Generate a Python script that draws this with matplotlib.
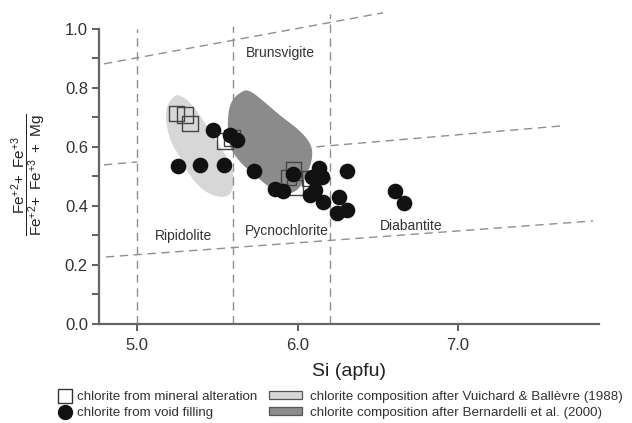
import matplotlib
matplotlib.use('Agg')
import matplotlib.pyplot as plt
from matplotlib.patches import Polygon, Patch
from matplotlib.lines import Line2D
import numpy as np

plt.rcParams['font.family'] = ['Liberation Sans', 'DejaVu Sans']
plt.rcParams['mathtext.fontset'] = 'custom'
plt.rcParams['mathtext.rm'] = 'Liberation Sans'
plt.rcParams['mathtext.it'] = 'Liberation Sans:italic'
plt.rcParams['mathtext.bf'] = 'Liberation Sans:bold'

# ---------------- data ----------------
# chlorite from mineral alteration (open squares)
sq_si = [5.247, 5.299, 5.330, 5.548, 5.592, 5.974, 5.943, 5.984, 6.078]
sq_fe = [0.714, 0.708, 0.678, 0.620, 0.630, 0.524, 0.496, 0.463, 0.494]

# chlorite from void filling (filled circles)
ci_si = [5.471, 5.579, 5.625, 5.258, 5.393, 5.542, 5.729, 5.860, 5.912, 5.970,
         6.088, 6.136, 6.151, 6.078, 6.109, 6.157, 6.261, 6.248, 6.310, 6.310,
         6.607, 6.664]
ci_fe = [0.658, 0.641, 0.624, 0.536, 0.539, 0.539, 0.519, 0.457, 0.452, 0.507,
         0.499, 0.528, 0.497, 0.437, 0.454, 0.412, 0.429, 0.377, 0.386, 0.519,
         0.451, 0.409]

# field after Vuichard & Ballevre (1988)
vb_si = [5.230, 5.170, 5.200, 5.268, 5.330, 5.436, 5.561, 5.605, 5.600, 5.561,
         5.498, 5.411, 5.330, 5.268]
vb_fe = [0.775, 0.725, 0.624, 0.566, 0.498, 0.440, 0.425, 0.464, 0.522, 0.566,
         0.617, 0.692, 0.752, 0.775]

# field after Bernardelli et al. (2000)
be_si = [5.660, 5.575, 5.562, 5.575, 5.642, 5.748, 5.829, 5.910, 6.005, 6.065,
         6.095, 6.085, 6.016, 5.891, 5.766, 5.704]
be_fe = [0.792, 0.752, 0.658, 0.600, 0.546, 0.498, 0.460, 0.438, 0.450, 0.512,
         0.566, 0.610, 0.655, 0.706, 0.765, 0.790]

# classification boundaries
vline_si = [5.0, 5.6, 6.2]
vline_top = [1.0, 1.01, 1.05]
sline_x0 = [4.794, 4.794, 5.6, 4.806]
sline_y0 = [0.881, 0.539, 0.576, 0.227]
sline_x1 = [6.533, 5.0, 7.648, 7.841]
sline_y1 = [1.054, 0.549, 0.671, 0.349]

field_names = ['Brunsvigite', 'Ripidolite', 'Pycnochlorite', 'Diabantite']
field_x = [5.89, 5.29, 5.93, 6.71]
field_y = [0.918, 0.298, 0.315, 0.332]

xticks = [5.0, 6.0, 7.0]
yticks = [0.0, 0.2, 0.4, 0.6, 0.8, 1.0]
yminor = [0.1, 0.3, 0.5, 0.7, 0.9]


def rounded_outline(xs, ys, iters=3):
    """Chaikin corner cutting to round the outline of a closed field."""
    p = np.column_stack([xs, ys]).astype(float)
    for _ in range(iters):
        q = np.roll(p, -1, axis=0)
        p = np.vstack([0.75 * p + 0.25 * q, 0.25 * p + 0.75 * q]).reshape(2, -1, 2)
        p = np.stack([p[0], p[1]], axis=1).reshape(-1, 2)
    return p


# ---------------- figure ----------------
fig = plt.figure(figsize=(6.32, 4.23), dpi=100)
ax = fig.add_axes([99/632, 1-324/423, 500/632, 313/423])
ax.set_xlim(4.763, 7.878)
ax.set_ylim(0, 1.06)

light = '#d7d7d7'
dark = '#8b8b8b'
ax.add_patch(Polygon(rounded_outline(vb_si, vb_fe), closed=True, facecolor=light,
                     edgecolor='none', zorder=1))
ax.add_patch(Polygon(rounded_outline(be_si, be_fe), closed=True, facecolor=dark,
                     edgecolor='none', zorder=1))

lc = '#8f8f8f'
for x, t in zip(vline_si, vline_top):
    ax.plot([x, x], [0, t], color=lc, lw=1.0, dashes=(6, 4), zorder=2)
for x0, y0, x1, y1 in zip(sline_x0, sline_y0, sline_x1, sline_y1):
    ax.plot([x0, x1], [y0, y1], color=lc, lw=1.0, dashes=(6, 4), zorder=2)

for n, x, y in zip(field_names, field_x, field_y):
    ax.text(x, y, n, ha='center', va='center', fontsize=10, color='#333333', zorder=3)

ax.scatter(sq_si, sq_fe, marker='s', s=120, facecolors='none',
           edgecolors='#444444', linewidths=1.0, zorder=4)
ax.scatter(ci_si, ci_fe, marker='o', s=105, color='#111111', zorder=5)

for s in ['top', 'right']:
    ax.spines[s].set_visible(False)
for s in ['left', 'bottom']:
    ax.spines[s].set_color('#666666')
    ax.spines[s].set_linewidth(1.6)
ax.spines['left'].set_bounds(0, 1.0)

ax.set_xticks(xticks)
ax.set_xticklabels(['%.1f' % v for v in xticks])
ax.set_yticks(yticks)
ax.set_yticklabels(['%.1f' % v for v in yticks])
ax.set_yticks(yminor, minor=True)
ax.tick_params(axis='both', which='both', direction='out', color='#555555',
               width=1.3, labelcolor='#333333', labelsize=12)
ax.tick_params(axis='y', which='both', length=5, pad=3)
ax.tick_params(axis='x', which='major', length=5, pad=5)

ax.set_xlabel('Si (apfu)', fontsize=14, color='#222222', labelpad=7)

fig.text(29/632, 1-175/423,
         r'$\dfrac{\mathrm{Fe}^{+2}\!+\ \mathrm{Fe}^{+3}}{\mathrm{Fe}^{+2}\!+\ \mathrm{Fe}^{+3}\ +\ \mathrm{Mg}}$',
         rotation=90, ha='center', va='center', fontsize=11, color='#222222')

# ---------------- legend ----------------
h1 = [Line2D([], [], marker='s', ls='none', markersize=10.5, mfc='white',
             mec='#333333', mew=1.0),
      Line2D([], [], marker='o', ls='none', markersize=10, color='#111111')]
l1 = ['chlorite from mineral alteration', 'chlorite from void filling']
leg1 = fig.legend(h1, l1, loc='upper left', bbox_to_anchor=(57/632, 1-391/423),
                  frameon=False, fontsize=9.6, handlelength=1.15, handletextpad=0.35,
                  borderpad=0, borderaxespad=0, labelspacing=0.28, labelcolor='#333333')
h2 = [Patch(facecolor=light, edgecolor='#555555', lw=0.9),
      Patch(facecolor=dark, edgecolor='#555555', lw=0.9)]
l2 = ['chlorite composition after Vuichard & Ballèvre (1988)',
      'chlorite composition after Bernardelli et al. (2000)']
leg2 = fig.legend(h2, l2, loc='upper left', bbox_to_anchor=(269/632, 1-391/423),
                  frameon=False, fontsize=9.6, handlelength=2.45, handleheight=0.55,
                  handletextpad=0.65, borderpad=0, borderaxespad=0,
                  labelspacing=0.28, labelcolor='#333333')

fig.savefig('out.png', dpi=100)
